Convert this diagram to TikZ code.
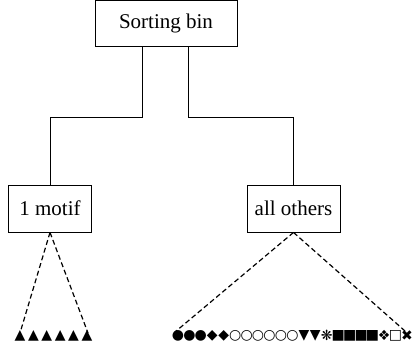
\documentclass[tikz,border=0pt]{standalone}
\usepackage{fontspec}
\setmainfont{Liberation Serif}
\newfontfamily\symfont{DejaVu Sans}
\usetikzlibrary{positioning,calc}
\tikzset{
    % plain boxes of the sorting tree
    binbox/.style={
        rectangle,
        draw=black,
        fill=white,
        line width=0.9pt,
        minimum height=46pt,
        inner sep=0pt,
        align=center,
        font=\fontsize{21}{24}\selectfont
    },
    link/.style={
        line width=0.9pt,
        color=black
    },
    fan/.style={
        line width=1.2pt,
        dash pattern=on 5pt off 3pt,
        color=black
    },
    glyph/.style={
        inner sep=0pt,
        font=\symfont\fontsize{14}{14}\selectfont
    }
}
\begin{document}
\begin{tikzpicture}[x=1pt, y=-1pt]
    \useasboundingbox (0,0) rectangle (413,353);

    % Sorting bin
    \node[binbox, minimum width=142pt] (bin) at (166,23.5) {Sorting bin};

    % the two branches
    \node[binbox, minimum width=83pt, minimum height=47pt] (motif) at (50,208.5) {1 motif};
    \node[binbox, minimum width=93pt, minimum height=47pt] (others) at (293.5,208.5) {all others};

    % Tree lines
    \draw[link] ([xshift=-24pt]bin.south) -- ++(0,71) -| (motif.north);
    \draw[link] ([xshift=22pt]bin.south) -- ++(0,71) -| (others.north);

    % Symbol rows
    \foreach \s [count=\i] in {▲,▲,▲,▲,▲,▲}
        \node[glyph] (tri\i) at ({6.6+13.4*\i},335.5) {\s};
    \foreach \s [count=\i] in {●,●,●,◆,◆,○,○,○,○,○,○,▼,▼,❋,■,■,■,■,❖,□,✖}
        \node[glyph] (sym\i) at ({166.5+11.45*\i},335.5) {\s};

    % Fans (dashed)
    \coordinate (mL) at (20,333);
    \coordinate (mR) at (88,333);
    \coordinate (oL) at (175,332);
    \coordinate (oR) at (405,331);
    \draw[fan] (motif.south) -- (mL);
    \draw[fan] (motif.south) -- (mR);
    \draw[fan] (others.south) -- (oL);
    \draw[fan] (others.south) -- (oR);
\end{tikzpicture}
\end{document}
